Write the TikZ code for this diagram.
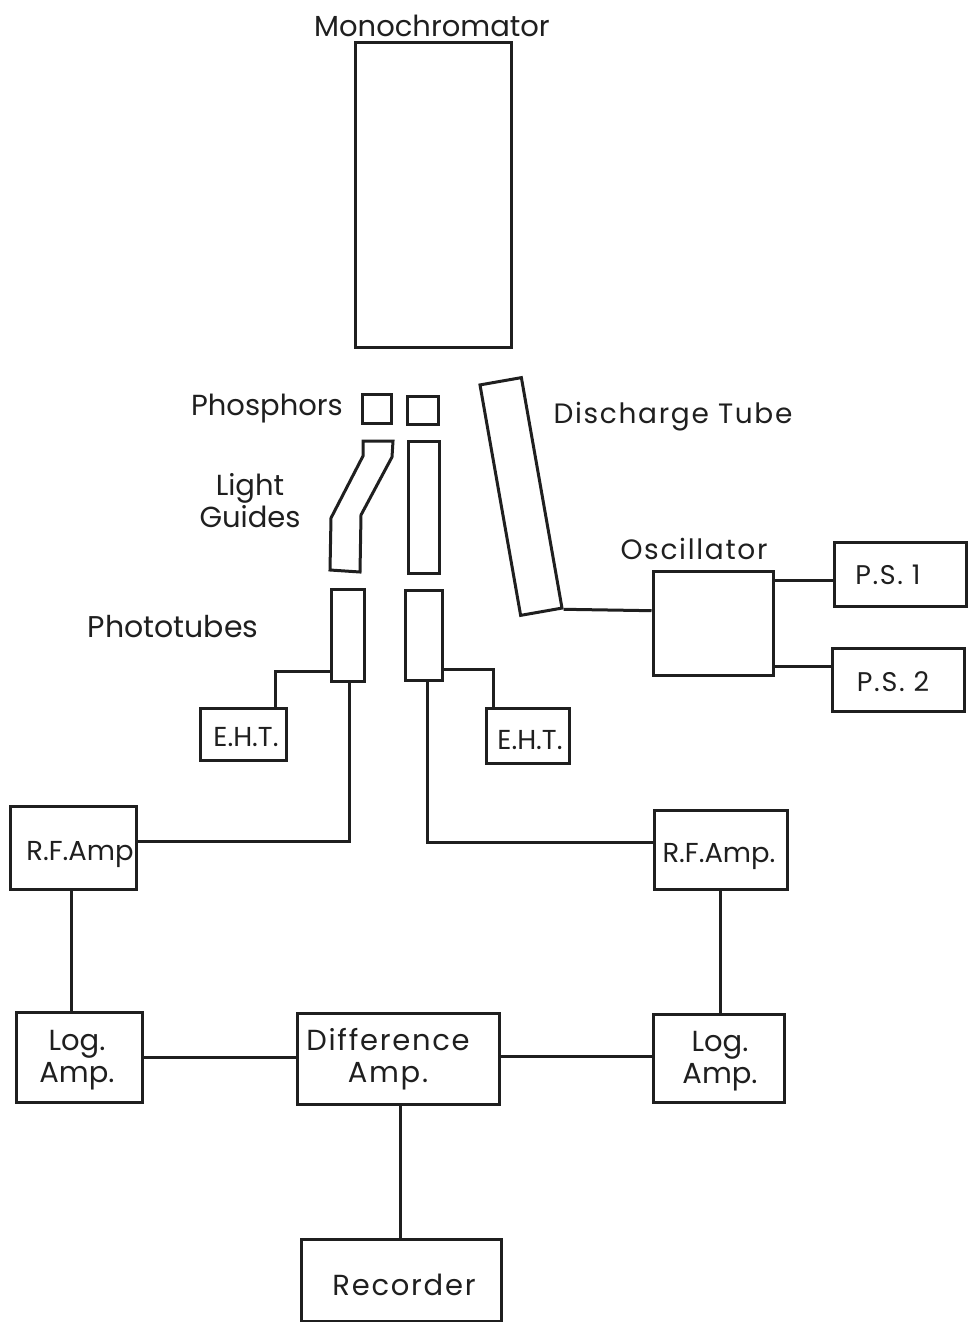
\documentclass[tikz,border=0pt]{standalone}
\usepackage{fontspec}
\setmainfont{Poppins}
\newfontfamily\spaced[LetterSpace=6]{Poppins}
\usetikzlibrary{calc}
\tikzset{
  x=0.5pt,y=-0.5pt,
  ln/.style={draw=black!88,line width=1.5pt,line join=miter},
  box/.style={ln,rectangle,inner sep=0pt},
  lab/.style={inner sep=0pt,align=center,font=\fontsize{14.5}{16}\selectfont,text=black!88},
  wide/.style={lab,font=\spaced\fontsize{14}{16}\selectfont},
  sml/.style={lab,font=\fontsize{13.7}{16}\selectfont},
}
\newcommand{\bx}[5]{% name, x0,y0,x1,y1
  \node[box,minimum width=#4*0.5pt-#2*0.5pt,minimum height=#5*0.5pt-#3*0.5pt] (#1) at ({(#2+#4)/2},{(#3+#5)/2}) {};}
\begin{document}
\begin{tikzpicture}
\useasboundingbox (0,0) rectangle (971,1322);
\bx{mono}{355}{43}{511}{347}
\bx{ph1}{362}{394}{391}{423}
\bx{ph2}{407}{396}{438}{424}
\bx{lg2}{408}{441}{439}{573}
\bx{pt1}{331}{589}{364}{681}
\bx{pt2}{405}{590}{442}{680}
\bx{eht1}{200}{708}{286}{760}
\bx{eht2}{486}{708}{569}{763}
\bx{rf1}{10}{806}{136}{889}
\bx{rf2}{654}{810}{787}{889}
\bx{log1}{16}{1012}{142}{1102}
\bx{log2}{653}{1014}{784}{1102}
\bx{diff}{297}{1013}{499}{1104}
\bx{rec}{301}{1239}{501}{1321}
\bx{osc}{653}{571}{773}{675}
\bx{ps1}{834}{542}{966}{606}
\bx{ps2}{832}{648}{964}{711}
\node[box,minimum width=21pt,minimum height=117pt,rotate=10] (tube) at (521,496.5) {};
\draw[ln] (363,441) -- (393,441) -- (392,457) -- (361,515) -- (360,572) -- (330,570) -- (331,518) -- (363,456) -- cycle;
\node[lab] (lmono) at (432,26) {Monochromator};
\node[lab] (lphos) at (267,409) {Phosphors};
\node[lab] (llg) at (250,501) {Light\\Guides};
\node[lab,font=\fontsize{15}{16}\selectfont] (lpt) at (173,627) {Phototubes};
\node[wide] (ldt) at (673,417) {Discharge Tube};
\node[wide] (losc) at (694,549) {Oscillator};
\node[wide,font=\spaced\fontsize{13.5}{16}\selectfont] (tps1) at (888,575) {P.S. 1};
\node[wide,font=\spaced\fontsize{13.5}{16}\selectfont] (tps2) at (893,682) {P.S. 2};
\node[sml] (te1) at (246,737) {E.H.T.};
\node[sml] (te2) at (530,740) {E.H.T.};
\node[sml] (trf1) at (80,855) {R.F.Amp};
\node[sml] (trf2) at (719,857) {R.F.Amp.};
\node[lab] (tl1) at (77,1060) {Log.\\Amp.};
\node[lab] (tl2) at (720,1061) {Log.\\Amp.};
\node[wide,font=\spaced\fontsize{14.5}{16}\selectfont] (td) at (388,1059) {Difference\\Amp.};
\node[wide,font=\spaced\fontsize{14.5}{16}\selectfont] (tr) at (404,1285) {Recorder};
\coordinate (c1) at ($(osc.north west)!.385!(osc.south west)$);
\coordinate (c2) at ($(ps1.north west)!.6!(ps1.south west)$);
\coordinate (c3) at ($(ps2.north west)!.3!(ps2.south west)$);
\coordinate (c4) at ($(pt1.north west)!.88!(pt1.south west)$);
\coordinate (c5) at ($(eht1.north west)!.86!(eht1.north east)$);
\coordinate (c6) at ($(pt2.north east)!.87!(pt2.south east)$);
\coordinate (c7) at ($(eht2.north west)!.11!(eht2.north east)$);
\coordinate (c8) at ($(pt1.south west)!.55!(pt1.south east)$);
\coordinate (c9) at ($(rf1.north east)!.43!(rf1.south east)$);
\coordinate (c10) at ($(pt2.south west)!.6!(pt2.south east)$);
\coordinate (c11) at ($(rf2.north west)!.42!(rf2.south west)$);
\coordinate (c12) at ($(rf1.south west)!.49!(rf1.south east)$);
\coordinate (c13) at ($(rf2.south west)!.5!(rf2.south east)$);
\coordinate (c14) at ($(log1.north east)!.5!(log1.south east)$);
\coordinate (c15) at ($(diff.north east)!.48!(diff.south east)$);
\coordinate (c16) at ($(diff.south west)!.51!(diff.south east)$);
\draw[ln] (tube.south east) -- (c1);
\draw[ln] (c2) -- (c2 -| osc.east);
\draw[ln] (c3) -- (c3 -| osc.east);
\draw[ln] (c4) -| (c5);
\draw[ln] (c6) -| (c7);
\draw[ln] (c8) |- (c9);
\draw[ln] (c10) |- (c11);
\draw[ln] (c12) -- (c12 |- log1.north);
\draw[ln] (c13) -- (c13 |- log2.north);
\draw[ln] (c14) -- (c14 -| diff.west);
\draw[ln] (c15) -- (c15 -| log2.west);
\draw[ln] (c16) -- (c16 |- rec.north);
\end{tikzpicture}
\end{document}
